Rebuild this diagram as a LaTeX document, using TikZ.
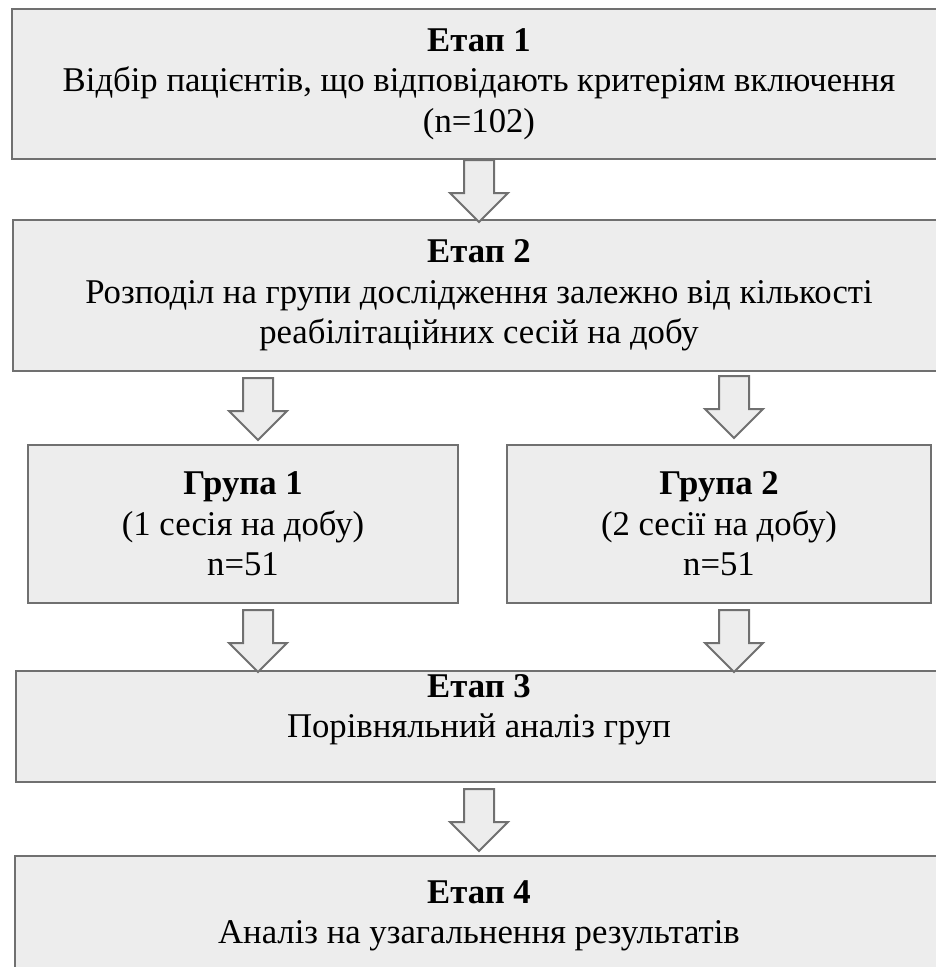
\documentclass[tikz,border=0pt]{standalone}
\usepackage{fontspec}
\setmainfont{Liberation Serif}
\definecolor{boxfill}{RGB}{237,237,237}
\definecolor{boxline}{RGB}{112,112,112}
\tikzset{
  stagebox/.style={draw=boxline, fill=boxfill, line width=2pt, inner sep=0pt, align=center, font=\fontsize{34.7}{40.5}\selectfont},
  pics/blockarrow/.style={code={\draw[draw=boxline, fill=boxfill, line width=2pt, line join=miter] (-15,0) -- (15,0) -- (15,33) -- (29,33) -- (0,62) -- (-29,33) -- (-15,33) -- cycle;}}
}
\begin{document}
\begin{tikzpicture}[x=1pt, y=-1pt]
	\useasboundingbox (0,0) rectangle (935,967);
	\node[stagebox, minimum width=934pt, minimum height=150pt] (st1) at (479,84) {\textbf{Етап 1}\\Відбір пацієнтів, що відповідають критеріям включення\\(n=102)};
	\node[stagebox, minimum width=932pt, minimum height=151pt] (st2) at (479,295.5) {\textbf{Етап 2}\\Розподіл на групи дослідження залежно від кількості\\реабілітаційних сесій на добу};
	\node[stagebox, minimum width=430pt, minimum height=158pt] (gr1) at (243,524) {\textbf{Група 1}\\(1 сесія на добу)\\n=51};
	\node[stagebox, minimum width=424pt, minimum height=158pt] (gr2) at (719,524) {\textbf{Група 2}\\(2 сесії на добу)\\n=51};
	\node[stagebox, minimum width=926pt, minimum height=111pt] (st3) at (479,726.5) {\textbf{Етап 3}\\Порівняльний аналіз груп\\\mbox{}};
	\node[stagebox, minimum width=928pt, minimum height=120pt] (st4) at (479,916) {\textbf{Етап 4}\\Аналіз на узагальнення результатів};
	\pic at (st1.south) {blockarrow};
	\pic[xshift=15pt, yshift=-6pt] at (st2.south -| gr1.south) {blockarrow};
	\pic[xshift=15pt, yshift=-4pt] at (st2.south -| gr2.south) {blockarrow};
	\pic[xshift=15pt, yshift=-6pt] at (gr1.south) {blockarrow};
	\pic[xshift=15pt, yshift=-6pt] at (gr2.south) {blockarrow};
	\pic[yshift=-6pt] at (st3.south) {blockarrow};
\end{tikzpicture}
\end{document}
